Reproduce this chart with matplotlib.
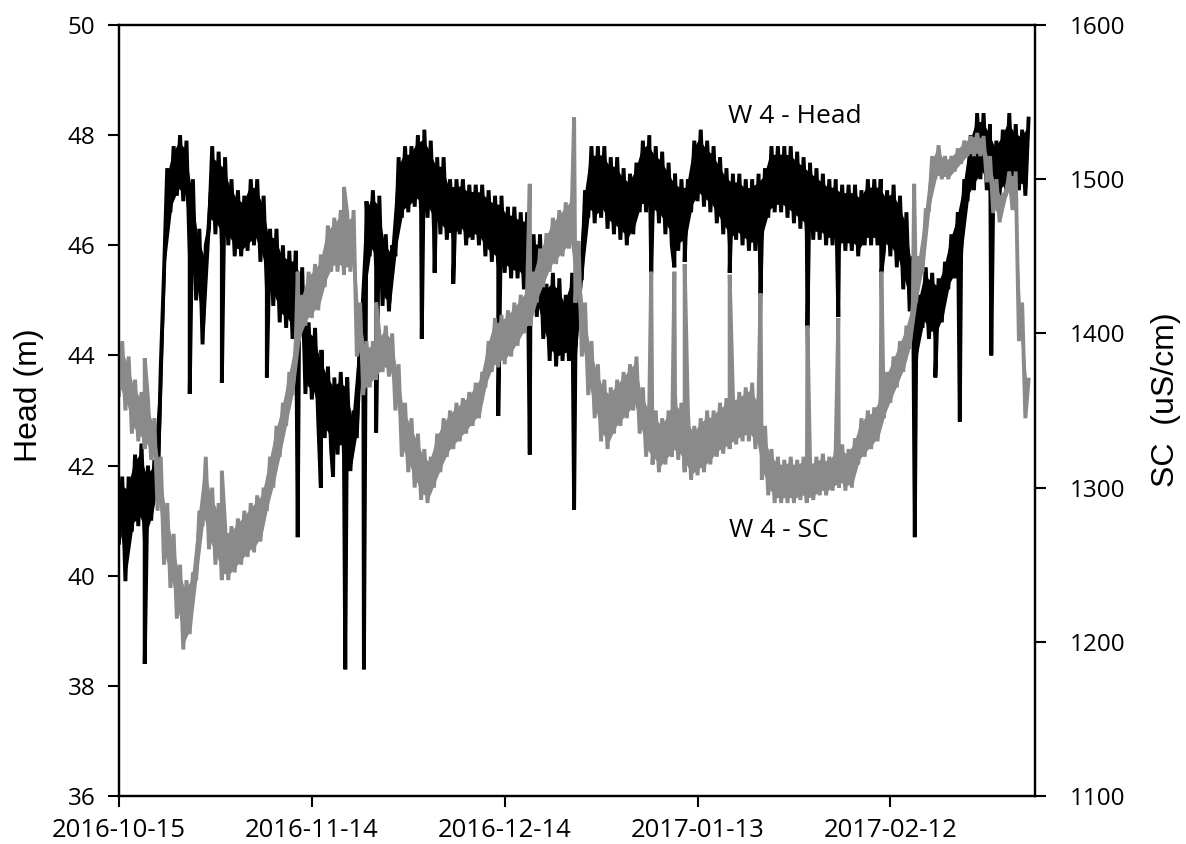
import numpy as np
import matplotlib
matplotlib.use("Agg")
import matplotlib.pyplot as plt
import matplotlib.dates as mdates

# ---- data: daily envelope (high / low) of the logged series, day 0 = 2016-10-15 ----
START = np.datetime64("2016-10-15")

HEAD_HI = [41.8, 41.8, 42.2, 42.4, 42.0, 42.1, 43.8, 47.4, 47.8, 48.0,
           47.9, 47.2, 46.3, 46.0, 47.8, 47.7, 47.6, 47.2, 47.0, 46.9,
           47.2, 47.2, 46.9, 46.3, 46.3, 46.0, 45.9, 45.9, 45.6, 44.6,
           44.5, 44.1, 43.8, 43.6, 43.7, 43.6, 43.0, 44.5, 46.8, 47.0,
           46.9, 46.2, 46.0, 47.6, 47.8, 47.8, 48.0, 48.1, 47.9, 47.6,
           47.6, 47.2, 47.2, 47.2, 47.1, 47.1, 47.1, 47.0, 46.9, 46.9,
           46.7, 46.7, 46.6, 46.6, 46.2, 46.2, 45.3, 45.5, 45.4, 45.1,
           45.5, 45.4, 47.0, 47.8, 47.8, 47.8, 47.6, 47.6, 47.4, 47.3,
           47.5, 47.9, 48.0, 47.8, 47.7, 47.5, 47.3, 47.2, 47.2, 47.9,
           48.1, 47.9, 47.8, 47.6, 47.4, 47.3, 47.3, 47.2, 47.2, 47.3,
           47.4, 47.8, 47.8, 47.8, 47.8, 47.7, 47.6, 47.5, 47.4, 47.3,
           47.2, 47.2, 47.1, 47.1, 47.1, 47.0, 47.2, 47.2, 47.2, 47.0,
           47.1, 46.9, 46.6, 45.8, 45.1, 45.6, 45.5, 45.4, 45.7, 46.2,
           46.6, 47.2, 48.0, 48.4, 48.4, 48.2, 47.9, 48.1, 48.4, 48.2,
           48.1, 48.3]
HEAD_LO = [40.6, 39.9, 40.8, 40.9, 40.6, 41.0, 41.5, 45.5, 46.6, 46.9,
           46.8, 45.8, 45.0, 44.2, 46.3, 46.2, 46.0, 46.0, 45.8, 45.8,
           45.9, 46.0, 45.7, 45.2, 44.9, 44.6, 44.5, 44.3, 44.3, 43.3,
           43.2, 42.8, 42.5, 42.3, 42.2, 42.2, 41.9, 42.5, 44.9, 45.8,
           45.6, 44.9, 44.8, 45.8, 46.5, 46.6, 46.7, 46.6, 46.5, 46.3,
           46.2, 46.1, 46.1, 46.2, 46.0, 46.1, 46.0, 45.8, 45.7, 45.6,
           45.5, 45.4, 45.4, 45.2, 44.8, 44.7, 44.3, 43.9, 43.8, 43.9,
           43.9, 44.0, 45.4, 46.5, 46.4, 46.5, 46.3, 46.2, 46.1, 46.0,
           46.2, 46.6, 46.6, 46.5, 46.4, 46.2, 46.0, 45.9, 46.0, 46.6,
           46.8, 46.7, 46.6, 46.4, 46.2, 46.0, 46.1, 46.0, 45.9, 45.9,
           46.1, 46.5, 46.6, 46.6, 46.5, 46.4, 46.3, 46.2, 46.1, 46.1,
           46.0, 46.0, 45.9, 45.9, 45.9, 45.8, 46.0, 46.0, 46.0, 45.9,
           45.8, 45.6, 45.2, 44.8, 43.9, 44.5, 44.3, 44.3, 44.6, 45.2,
           45.4, 45.8, 46.8, 47.0, 47.2, 47.0, 46.9, 46.9, 47.0, 47.0,
           47.0, 46.9]

SC_HI = [1395, 1385, 1370, 1362, 1358, 1345, 1320, 1290, 1270, 1250,
         1240, 1245, 1285, 1320, 1300, 1290, 1275, 1275, 1280, 1285,
         1290, 1295, 1300, 1320, 1340, 1355, 1375, 1395, 1425, 1440,
         1445, 1450, 1470, 1475, 1480, 1478, 1480, 1420, 1395, 1395,
         1400, 1405, 1400, 1380, 1355, 1345, 1335, 1325, 1320, 1335,
         1345, 1350, 1355, 1358, 1362, 1368, 1375, 1395, 1410, 1412,
         1415, 1420, 1425, 1430, 1440, 1455, 1465, 1475, 1480, 1485,
         1490, 1460, 1420, 1395, 1380, 1370, 1365, 1370, 1375, 1380,
         1385, 1365, 1355, 1350, 1345, 1350, 1360, 1355, 1350, 1340,
         1345, 1350, 1350, 1355, 1358, 1360, 1362, 1365, 1368, 1360,
         1340, 1325, 1320, 1318, 1320, 1318, 1320, 1318, 1320, 1322,
         1320, 1325, 1328, 1325, 1332, 1345, 1350, 1352, 1360, 1375,
         1385, 1395, 1405, 1420, 1450, 1480, 1515, 1522, 1515, 1515,
         1520, 1525, 1528, 1530, 1528, 1515, 1500, 1490, 1505, 1505,
         1420, 1370]
SC_LO = [1360, 1350, 1335, 1330, 1325, 1318, 1285, 1250, 1235, 1215,
         1195, 1205, 1240, 1275, 1260, 1250, 1240, 1240, 1245, 1250,
         1255, 1258, 1265, 1285, 1300, 1320, 1340, 1360, 1395, 1405,
         1410, 1415, 1430, 1440, 1440, 1438, 1440, 1385, 1360, 1365,
         1370, 1375, 1372, 1350, 1320, 1310, 1300, 1292, 1290, 1300,
         1310, 1320, 1325, 1330, 1335, 1340, 1345, 1365, 1375, 1378,
         1380, 1385, 1392, 1400, 1405, 1420, 1430, 1440, 1445, 1450,
         1455, 1420, 1385, 1360, 1345, 1330, 1325, 1335, 1340, 1345,
         1350, 1335, 1320, 1315, 1310, 1315, 1320, 1318, 1310, 1305,
         1308, 1310, 1315, 1320, 1322, 1325, 1328, 1330, 1330, 1325,
         1305, 1295, 1290, 1290, 1290, 1290, 1292, 1290, 1292, 1295,
         1295, 1298, 1300, 1298, 1300, 1315, 1320, 1325, 1330, 1345,
         1355, 1365, 1375, 1390, 1420, 1440, 1480, 1500, 1500, 1500,
         1505, 1510, 1515, 1515, 1515, 1498, 1478, 1472, 1490, 1480,
         1395, 1345]

# short drops in head / jumps in SC (day offset, value)
HEAD_SPIKE_DAY = [4.0, 11.0, 16.0, 23.0, 27.8, 31.4, 33.3, 35.2, 38.1, 40.0,
                  47.1, 49.1, 52.0, 59.0, 63.9, 70.8, 82.8, 86.4, 88.0, 95.0,
                  99.8, 107.1, 111.9, 118.6, 123.8, 127.0, 130.8, 135.7]
HEAD_SPIKE_VAL = [38.4, 43.3, 43.5, 43.6, 40.7, 41.6, 41.8, 38.3, 38.3, 42.6,
                  44.3, 45.5, 45.3, 42.9, 42.2, 41.2, 45.5, 45.6, 45.7, 45.5,
                  45.1, 44.5, 44.7, 45.5, 40.7, 43.6, 42.8, 44.0]
SC_SPIKE_DAY = [4.0, 16.0, 27.8, 31.4, 35.0, 40.0, 63.9, 70.8, 82.8, 86.4,
                88.0, 95.0, 99.8, 107.1, 111.9, 118.6, 123.7]
SC_SPIKE_VAL = [1384, 1311, 1440, 1450, 1495, 1420, 1497, 1540, 1440, 1440,
                1445, 1438, 1426, 1405, 1410, 1440, 1497]

TICK_DAYS = [0, 30, 60, 90, 120]
LAST_DAY = 142.5


def to_dates(days):
    return START + (np.asarray(days, float) * 24 * 60).astype("timedelta64[m]")


def build_series(hi, lo, spike_day, spike_val):
    """Zig-zag through the daily low/high values and insert the short spikes."""
    days = np.arange(len(hi), dtype=float)
    t = np.concatenate([days, days + 0.5, np.asarray(spike_day, float)])
    v = np.concatenate([np.asarray(lo, float), np.asarray(hi, float),
                        np.asarray(spike_val, float)])
    order = np.argsort(t, kind="stable")
    return to_dates(t[order]), v[order]


def draw_band(a, hi, lo, spike_day, spike_val, color):
    """Dense core of the daily range plus the zig-zag trace on top."""
    hi = np.asarray(hi, float)
    lo = np.asarray(lo, float)
    days = np.arange(len(hi), dtype=float) + 0.25
    span = hi - lo
    a.fill_between(to_dates(days), lo + 0.12 * span, hi - 0.12 * span,
                   color=color, lw=0)
    t, v = build_series(hi, lo, spike_day, spike_val)
    a.plot(t, v, color=color, lw=2.8, solid_joinstyle="miter")


TICK_FONT = "Open Sans"
LABEL_FONT = "Liberation Sans"

fig = plt.figure(figsize=(11.86, 8.44), dpi=100)
ax = fig.add_axes([119 / 1186, 48 / 844, 916 / 1186, 771 / 844])
ax2 = ax.twinx()

draw_band(ax, HEAD_HI, HEAD_LO, HEAD_SPIKE_DAY, HEAD_SPIKE_VAL, "black")
draw_band(ax2, SC_HI, SC_LO, SC_SPIKE_DAY, SC_SPIKE_VAL, "#8a8a8a")

ax.set_xlim(START, START + np.timedelta64(int(LAST_DAY * 24), "h"))
ax.set_ylim(36, 50)
ax2.set_ylim(1100, 1600)
ax.set_yticks(np.arange(36, 51, 2))
ax2.set_yticks(np.arange(1100, 1601, 100))
ax.set_xticks([START + np.timedelta64(d, "D") for d in TICK_DAYS])
ax.xaxis.set_major_formatter(mdates.DateFormatter("%Y-%m-%d"))

for a in (ax, ax2):
    for s in a.spines.values():
        s.set_linewidth(1.6)
        s.set_color("black")
    a.tick_params(direction="out", length=8, width=1.5, labelsize=17.5,
                  colors="black")
    for lab in a.get_xticklabels() + a.get_yticklabels():
        lab.set_fontfamily(TICK_FONT)
ax.tick_params(axis="x", labelsize=18.5, pad=8)
ax.tick_params(axis="y", pad=9)
ax2.tick_params(axis="y", pad=17)

fig.text(29 / 1186, 1 - 395 / 844, "Head (m)", rotation=90, ha="center",
         va="center", fontsize=23, family=LABEL_FONT)
fig.text(1166 / 1186, 1 - 400 / 844, "SC  (uS/cm)", rotation=90, ha="center",
         va="center", fontsize=23, family=LABEL_FONT)

ax.text(START + np.timedelta64(int(105.1 * 24), "h"), 48.33, "W 4 - Head",
        ha="center", va="center", fontsize=19, family=TICK_FONT)
ax.text(START + np.timedelta64(int(102.6 * 24), "h"), 40.83, "W 4 - SC",
        ha="center", va="center", fontsize=19, family=TICK_FONT)

fig.savefig("out.png", dpi=100, facecolor="white")
